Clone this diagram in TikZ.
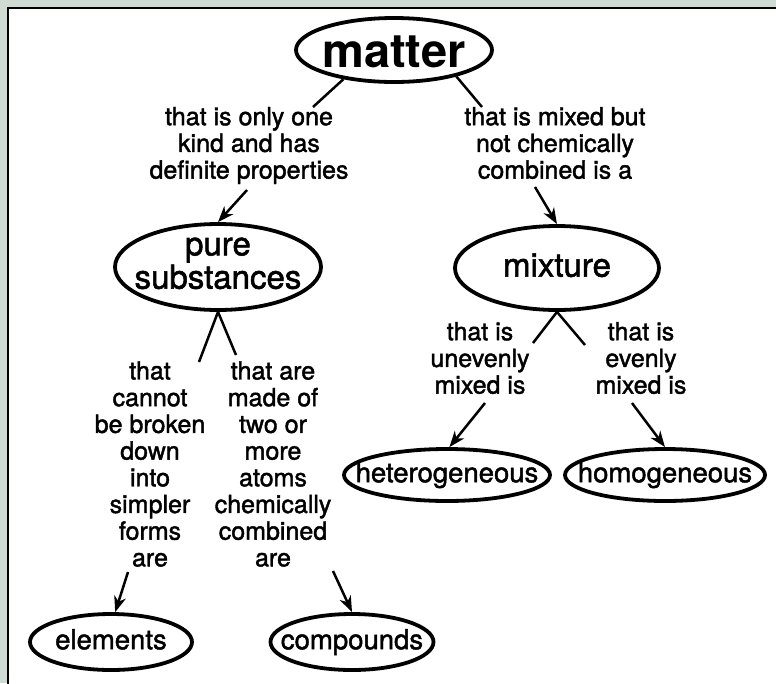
\documentclass[tikz,border=0pt]{standalone}
\usepackage{fontspec}
\setmainfont{TeX Gyre Heros}
\newfontfamily\labfont[FakeBold=1.6]{TeX Gyre Heros}
\usetikzlibrary{shapes.geometric,arrows.meta}
\definecolor{bgc}{HTML}{CFDBD3}
\newcommand{\inbox}[2]{\makebox[0pt]{\raisebox{#1}[0pt][0pt]{#2}}}
\begin{document}
\begin{tikzpicture}[x=1pt,y=-1pt,
  ell/.style={ellipse, draw, line width=3.8pt, inner sep=0pt},
  big/.style={font=\labfont\fontsize{33}{31}\selectfont},
  small/.style={font=\labfont\fontsize{27.5}{27.5}\selectfont},
  lab/.style={align=center, inner sep=0pt, font=\labfont\fontsize{25}{26.7}\selectfont},
  conn/.style={line width=2.5pt},
  arr/.style={line width=2.5pt, -{Stealth[length=16pt,width=12pt,inset=5pt]}}]
\useasboundingbox (0,0) rectangle (776,683);
\fill[bgc] (0,0) rectangle (776,683);
\draw[line width=2pt, fill=white] (8,8) rectangle (800,710);

% concept nodes
\node[ell, minimum width=196pt, minimum height=64pt, font=\bfseries\fontsize{47}{47}\selectfont] (matter) at (394,50) {\inbox{\dimexpr-0.5ex-5pt\relax}{matter}};
\node[ell, big, minimum width=206pt, minimum height=86pt] (pure) at (218,267) {\inbox{-5pt}{\begin{tabular}{@{}c@{}}pure\\substances\end{tabular}}};
\node[ell, big, minimum width=204pt, minimum height=84pt] (mixture) at (557,268) {\inbox{-0.5ex}{mixture}};
\node[ell, small, minimum width=206pt, minimum height=52pt] (het) at (447,475) {\inbox{-0.5ex}{heterogeneous}};
\node[ell, small, minimum width=200pt, minimum height=52pt] (hom) at (665,475) {\inbox{-0.5ex}{homogeneous}};
\node[ell, small, minimum width=162pt, minimum height=56pt] (elements) at (111,642) {\inbox{-0.5ex}{elements}};
\node[ell, small, minimum width=163pt, minimum height=56pt] (compounds) at (352,642) {\inbox{-0.5ex}{compounds}};

% linking phrases
\node[lab] (labA) at (249,145.5) {that is only one\\kind and has\\definite properties};
\node[lab] (labB) at (555,143) {that is mixed but\\not chemically\\combined is a};
\node[lab] (labC) at (150,464) {that\\cannot\\be broken\\down\\into\\simpler\\forms\\are};
\node[lab] (labD) at (273,464) {that are\\made of\\two or\\more\\atoms\\chemically\\combined\\are};
\node[lab] (labE) at (480,358) {that is\\unevenly\\mixed is};
\node[lab] (labF) at (641,358) {that is\\evenly\\mixed is};

% free ends of connectors
\coordinate (a1) at (313,107);
\coordinate (a2) at (247,190);
\coordinate (b1) at (482,107);
\coordinate (b2) at (535,187);
\coordinate (c1) at (199,362);
\coordinate (c2) at (128,572);
\coordinate (d1) at (236,355);
\coordinate (d2) at (333,571);
\coordinate (e1) at (533,343);
\coordinate (e2) at (485,403);
\coordinate (f1) at (585,345);
\coordinate (f2) at (632,403);

% connectors
\draw[conn] (matter.210) -- (a1);
\draw[arr] (a2) -- (pure.north);
\draw[conn] (matter.337) -- (b1);
\draw[arr] (b2) -- (mixture.north);
\draw[conn] (pure.south) -- (c1);
\draw[conn] (pure.south) -- (d1);
\draw[arr] (c2) -- (elements.82);
\draw[arr] (d2) -- (compounds.north);
\draw[conn] (mixture.south) -- (e1);
\draw[conn] (mixture.south) -- (f1);
\draw[arr] (e2) -- (het.85);
\draw[arr] (f2) -- (hom.north);
\end{tikzpicture}
\end{document}
